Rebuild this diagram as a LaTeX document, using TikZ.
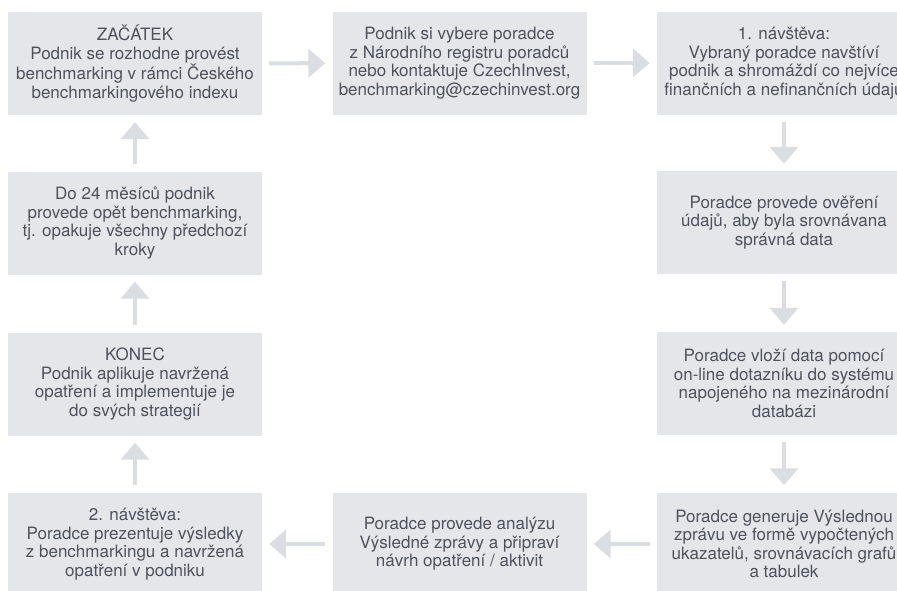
\documentclass[tikz,border=0pt]{standalone}
\usepackage{fontspec}
\setmainfont{TeX Gyre Heros}
\usetikzlibrary{arrows.meta}
\definecolor{boxgrey}{HTML}{E4E6EA}
\definecolor{txtgrey}{HTML}{4D525B}
\definecolor{flowgrey}{HTML}{DADDE1}
\begin{document}
\begin{tikzpicture}[x=1pt,y=-1pt,
  stepbox/.style={fill=boxgrey, text=txtgrey, minimum width=254pt, minimum height=103pt,
    inner sep=0pt, align=center, font=\fontsize{17}{18.5}\selectfont},
  flow/.style={draw=flowgrey, line width=4pt,
    -{Triangle[width=28pt,length=17pt]}, shorten <=7pt, shorten >=7pt}]
\useasboundingbox (0,0) rectangle (897,590);
\clip (0,0) rectangle (897,590);
\fill[white] (0,0) rectangle (897,590);

% top row
\node[stepbox] (b1) at (135,63.5) {ZAČÁTEK\\Podnik se rozhodne provést\\benchmarking v rámci Českého\\benchmarkingového indexu};
\node[stepbox] (b2) at (459.5,63) {Podnik si vybere poradce\\z Národního registru poradců\\nebo kontaktuje CzechInvest,\\benchmarking@czechinvest.org};
\node[stepbox] (b3) at (784,63) {1. návštěva:\\Vybraný poradce navštíví\\podnik a shromáždí co nejvíce\\finančních a nefinančních údajů};

% right column
\node[stepbox] (b4) at (784,222.5) {Poradce provede ověření\\údajů, aby byla srovnávana\\správná data};
\node[stepbox] (b5) at (784,383.5) {Poradce vloží data pomocí\\on-line dotazníku do systému\\napojeného na mezinárodní\\databázi};
\node[stepbox] (b6) at (784,544) {Poradce generuje Výslednou\\zprávu ve formě vypočtených\\ukazatelů, srovnávacích grafů\\a tabulek};

% bottom row
\node[stepbox] (b7) at (459.5,544) {Poradce provede analýzu\\Výsledné zprávy a připraví\\návrh opatření / aktivit};
\node[stepbox] (b8) at (135,544) {2. návštěva:\\Poradce prezentuje výsledky\\z benchmarkingu a navržená\\opatření v podniku};

% left column
\node[stepbox] (b9) at (135,384) {KONEC\\Podnik aplikuje navržená\\opatření a implementuje je\\do svých strategií};
\node[stepbox] (b10) at (135,223) {Do 24 měsíců podnik\\provede opět benchmarking,\\tj. opakuje všechny předchozí\\kroky};

% flow of the steps
\draw[flow] (b1) -- (b2);
\draw[flow] (b2) -- (b3);
\draw[flow] (b3) -- (b4);
\draw[flow] (b4) -- (b5);
\draw[flow] (b5) -- (b6);
\draw[flow] (b6) -- (b7);
\draw[flow] (b7) -- (b8);
\draw[flow] (b8) -- (b9);
\draw[flow] (b9) -- (b10);
\draw[flow] (b10) -- (b1);
\end{tikzpicture}
\end{document}
